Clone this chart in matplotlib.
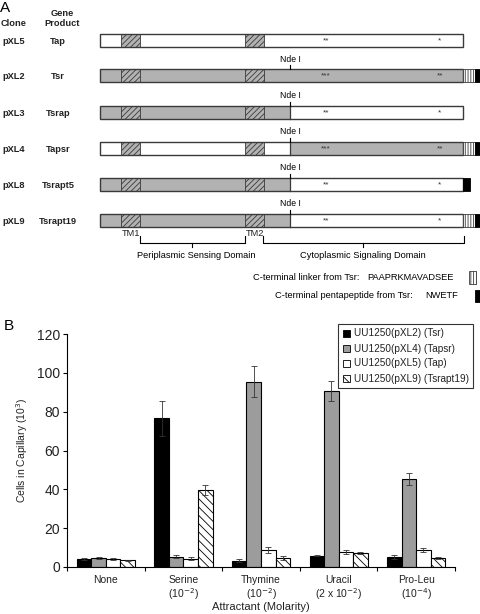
import numpy as np
import matplotlib.pyplot as plt
from matplotlib.patches import Rectangle, Patch

plt.rcParams['font.family'] = ['Liberation Sans', 'DejaVu Sans']
plt.rcParams['hatch.linewidth'] = 0.6

# ---- panel A data (diagram units) ----
clones = ['pXL5', 'pXL2', 'pXL3', 'pXL4', 'pXL8', 'pXL9']
products = ['Tap', 'Tsr', 'Tsrap', 'Tapsr', 'Tsrapt5', 'Tsrapt19']
# colour of the part before / after the Nde I site
n_part = ['w', 'g', 'g', 'w', 'g', 'g']
c_part = ['w', 'g', 'w', 'g', 'w', 'w']
has_nde = [False, True, True, True, True, True]
tails = ['none', 'linker', 'none', 'linker', 'penta', 'linker']
stars1 = ['**', '***', '**', '***', '**', '**']
stars2 = ['*', '**', '*', '**', '*', '*']
bar_start, nde_pos, bar_end = 100, 290, 463
tm1 = (121, 140)
tm2 = (245, 264)

# ---- panel B data ----
attractants = ['None', 'Serine', 'Thymine', 'Uracil', 'Pro-Leu']
molarity = ['', '(10$^{-2}$)', '(10$^{-2}$)', '(2 x 10$^{-2}$)', '(10$^{-4}$)']
strains = ['UU1250(pXL2) (Tsr)', 'UU1250(pXL4) (Tapsr)',
           'UU1250(pXL5) (Tap)', 'UU1250(pXL9) (Tsrapt19)']
tsr = [4.0, 76.7, 3.3, 5.8, 5.2]
tsr_err = [0.5, 9.0, 0.6, 0.3, 1.0]
tapsr = [4.8, 5.3, 95.4, 90.6, 45.4]
tapsr_err = [0.5, 0.8, 8.0, 5.0, 3.0]
tap = [4.2, 4.3, 8.9, 7.7, 8.9]
tap_err = [0.5, 0.7, 1.5, 1.0, 1.0]
tsrapt19 = [3.5, 39.5, 4.6, 7.2, 4.6]
tsrapt19_err = [0.3, 2.5, 1.0, 0.5, 0.5]

fig = plt.figure(figsize=(4.8, 6.14), dpi=100)

# ================= panel A =================
axA = fig.add_axes([0, 0, 1, 1])
axA.set_xlim(0, 480)
axA.set_ylim(614, 0)
axA.axis('off')

gray = '#b2b2b2'
edge = '#3a3a3a'
fills = {'w': 'white', 'g': gray}
row_y = [40, 75.5, 112, 148, 184, 220]
bh = 13
fsA = 6.7

axA.text(0, 8, 'A', fontsize=11, ha='left', va='center')
axA.text(1, 24, 'Clone', fontsize=fsA, fontweight='bold', ha='left', va='center', color='#222222')
axA.text(62, 13, 'Gene', fontsize=fsA, fontweight='bold', ha='center', va='center', color='#222222')
axA.text(62, 24, 'Product', fontsize=fsA, fontweight='bold', ha='center', va='center', color='#222222')

for i, y in enumerate(row_y):
    top = y - bh / 2
    axA.text(2, y + 1, clones[i], fontsize=fsA, fontweight='bold', ha='left', va='center', color='#222222')
    axA.text(58, y + 1, products[i], fontsize=fsA, fontweight='bold', ha='center', va='center', color='#222222')
    axA.add_patch(Rectangle((bar_start, top), nde_pos - bar_start, bh,
                            fc=fills[n_part[i]], ec='none'))
    axA.add_patch(Rectangle((nde_pos, top), bar_end - nde_pos, bh,
                            fc=fills[c_part[i]], ec='none'))
    if n_part[i] != c_part[i]:
        axA.plot([nde_pos, nde_pos], [top, top + bh], color=edge, lw=0.9)
    for a, b in (tm1, tm2):
        axA.add_patch(Rectangle((a, top), b - a, bh, fc=gray, ec=edge, lw=0.6,
                                hatch='//////'))
    axA.add_patch(Rectangle((bar_start, top), bar_end - bar_start, bh,
                            fc='none', ec=edge, lw=1.0))
    if tails[i] == 'linker':
        axA.add_patch(Rectangle((bar_end, top), 12, bh, fc='white', ec=edge,
                                lw=0.6, hatch='||||||'))
        axA.add_patch(Rectangle((bar_end + 12, top), 6, bh, fc='black', ec='black', lw=0.6))
    elif tails[i] == 'penta':
        axA.add_patch(Rectangle((bar_end, top), 7, bh, fc='black', ec='black', lw=0.6))
    axA.text(326, y + 0.5, stars1[i], fontsize=6, ha='center', va='center', color='#333333')
    axA.text(440, y + 0.5, stars2[i], fontsize=6, ha='center', va='center', color='#333333')
    if has_nde[i]:
        axA.plot([nde_pos, nde_pos], [top - 4, top], color='black', lw=0.8)
        axA.text(nde_pos, top - 9.5, 'Nde I', fontsize=6.2, ha='center', va='center')

# domain brackets
by = 243
axA.text(131, 233, 'TM1', fontsize=fsA, ha='center', va='center', color='#222222')
axA.text(255, 233, 'TM2', fontsize=fsA, ha='center', va='center', color='#222222')
axA.plot([140, 140, 245, 245], [236, by, by, 236], color='black', lw=0.8)
axA.plot([192, 192], [by, by + 4], color='black', lw=0.8)
axA.text(196, 256, 'Periplasmic Sensing Domain', fontsize=fsA, ha='center', va='center')
axA.plot([263, 263, 464, 464], [236, by, by, 236], color='black', lw=0.8)
axA.plot([363, 363], [by, by + 4], color='black', lw=0.8)
axA.text(363, 256, 'Cytoplasmic Signaling Domain', fontsize=fsA, ha='center', va='center')

axA.text(253, 278, 'C-terminal linker from Tsr:', fontsize=fsA, ha='left', va='center')
axA.text(367, 278, 'PAAPRKMAVADSEE', fontsize=fsA, ha='left', va='center')
axA.add_patch(Rectangle((469, 271), 7, 13, fc='white', ec=edge, lw=0.6, hatch='||||||'))
axA.text(275, 296, 'C-terminal pentapeptide from Tsr:', fontsize=fsA, ha='left', va='center')
axA.text(425, 296, 'NWETF', fontsize=fsA, ha='left', va='center')
axA.add_patch(Rectangle((475, 290), 6, 12, fc='black', ec='black', lw=0.6))

axA.text(4, 326, 'B', fontsize=11, ha='left', va='center')

# ================= panel B =================
axB = fig.add_axes([67 / 480, (614 - 567) / 614, (455 - 67) / 480, (567 - 334) / 614])
x = np.arange(len(attractants))
w = 0.1875
series = [(tsr, tsr_err, 'black', ''), (tapsr, tapsr_err, '#9c9c9c', ''),
          (tap, tap_err, 'white', ''), (tsrapt19, tsrapt19_err, 'white', '\\\\\\\\')]
for k, (vals, errs, col, hatch) in enumerate(series):
    axB.bar(x + (k - 1.5) * w, vals, width=w, color=col, edgecolor='black', lw=0.8,
            hatch=hatch, yerr=errs, capsize=2.5,
            error_kw=dict(elinewidth=0.6, capthick=0.6, ecolor='#333333'),
            label=strains[k], zorder=2)

axB.set_xlim(-0.5, len(attractants) - 0.5)
axB.set_ylim(0, 120)
axB.set_yticks(np.arange(0, 121, 20))
axB.set_xticks(np.arange(-0.5, len(attractants), 1.0))
axB.set_xticklabels([])
axB.tick_params(axis='x', which='major', length=3, width=0.8)
axB.tick_params(axis='y', labelsize=10, length=3, width=0.8, pad=2, labelcolor='#222222')
for s in ['top', 'right']:
    axB.spines[s].set_visible(False)
for s in ['left', 'bottom']:
    axB.spines[s].set_linewidth(0.8)

tr = axB.get_xaxis_transform()
for xi, name, mol in zip(x, attractants, molarity):
    axB.text(xi, -13 / 233, name, transform=tr, fontsize=7.5, ha='center',
             va='center', color='#222222')
    if mol:
        axB.text(xi, -27 / 233, mol, transform=tr, fontsize=7.5, ha='center',
                 va='center', color='#222222')

axB.set_ylabel('Cells in Capillary (10$^3$)', fontsize=7.5, labelpad=5, color='#222222')
fig.text(261 / 480, 1 - 607 / 614, 'Attractant (Molarity)', fontsize=8,
         ha='center', va='center', color='#222222')

handles = [Patch(facecolor=c, edgecolor='black', hatch=h, lw=0.6) for _, _, c, h in series]
leg = axB.legend(handles, strains, loc='upper right',
                 bbox_to_anchor=(473 / 480, 1 - 324 / 614), bbox_transform=fig.transFigure,
                 fontsize=7.2, frameon=True, fancybox=False, borderaxespad=0,
                 handlelength=0.7, handleheight=0.7, handletextpad=0.4,
                 labelspacing=0.5, borderpad=0.45)
leg.get_frame().set_edgecolor('black')
leg.get_frame().set_linewidth(0.8)
for t in leg.get_texts():
    t.set_color('#222222')

fig.savefig('out.png', dpi=100)
